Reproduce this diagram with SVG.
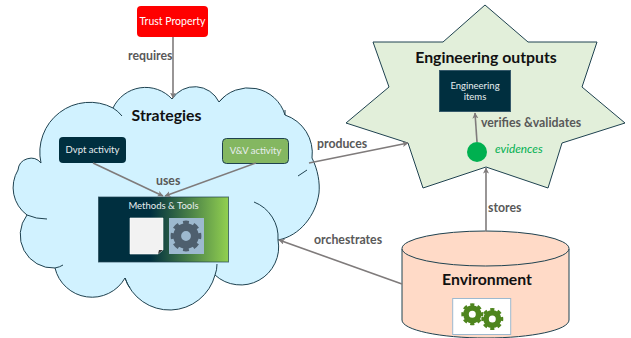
<svg xmlns="http://www.w3.org/2000/svg" width="631" height="338" viewBox="0 0 631 338">
<style>
text{font-family:Lato,"Open Sans","Liberation Sans",sans-serif}
.lab{font-size:12.300px;fill:#595959;font-weight:700}
.title{font-size:15.800px;fill:#111;font-weight:700;text-anchor:middle}
.small{font-size:9.500px;fill:#E8EEF0;text-anchor:middle}
.edge{stroke:#7F7B7B;stroke-width:1.6;fill:none;marker-end:url(#arr)}
.arc{fill:none;stroke:#1F4250;stroke-width:1}
</style>
<defs>
<marker id="arr" markerWidth="7" markerHeight="7" refX="5.500" refY="3" orient="auto" markerUnits="userSpaceOnUse"><path d="M0,0L6,3L0,6L1.500,3Z" fill="#7F7B7B"/></marker>
<linearGradient id="mg" x1="0" x2="1" y1="0" y2="0"><stop offset="0.4" stop-color="#002F3F"/><stop offset="1" stop-color="#92D050"/></linearGradient>
<g id="gear" fill="none" stroke="currentColor">
<circle r="9" stroke-width="8"/>
<circle r="13.200" stroke-width="5" pathLength="80" stroke-dasharray="5.500 4.500" stroke-dashoffset="2.750"/>
</g>
</defs>
<g id="strategies">
<path fill="#D1F2FF" stroke="#1F4250" d="M41,163A50,50 0 0 1 113,108A36,36 0 0 1 172,99A27,27 0 0 1 219,102A38,38 0 0 1 285,115A40,40 0 0 1 312,158C318,170 320,183 319,193C316,215 300,236 278,240A38,38 0 0 1 215,275A47,47 0 0 1 125,278A38,38 0 0 1 55,268A33,33 0 0 1 27,215A34,34 0 0 1 18,170A13,13 0 0 1 41,163Z"/>
<path class="arc" d="M113,108Q118,111 122,116"/>
<path class="arc" d="M219,102L224,97"/>
<path class="arc" d="M285,115V110"/>
<path class="arc" d="M298,176L307,170"/>
<path class="arc" d="M278,240A38,38 0 0 0 254,202"/>
<path class="arc" d="M215,275Q217,270 217,264"/>
<path class="arc" d="M125,278Q127,284 130,288"/>
<path class="arc" d="M55,268Q60,267 63,265"/>
<path class="arc" d="M27,215Q36,219 47,219"/>
<text class="title" x="166.500" y="121">Strategies</text>
</g>
<g id="trust"><rect x="137" y="6" width="71" height="31" rx="4" fill="#FF0000"/><text x="172.500" y="25" font-size="10.500" fill="#fff" text-anchor="middle">Trust Property</text></g>
<g id="dvpt"><rect x="59" y="137" width="67" height="26" rx="4" fill="#002F3F"/><text class="small" x="92.500" y="153">Dvpt activity</text></g>
<g id="vv"><rect x="222.500" y="138.500" width="66" height="25" rx="4" fill="#84B761" stroke="#1F4250"/><text class="small" x="255.500" y="154">V&amp;V activity</text></g>
<g id="methods">
<rect x="98.500" y="197" width="130" height="65" fill="url(#mg)" stroke="#1F4250" stroke-opacity=".7"/>
<text class="small" x="163.500" y="209">Methods &amp; Tools</text>
<path d="M130,218H163V250L158,254H130Z" fill="#F2F2F2" stroke="#fff" stroke-width=".6"/>
<path d="M163,250L158,254L159,250Z" fill="#333"/>
<rect x="169" y="218" width="35" height="36" fill="#9DB9CF"/>
<use href="#gear" transform="translate(186,236) scale(.98)" style="color:#4E5F6E"/>
</g>
<g id="outputs">
<path d="M485,5L528,42H597L582,87L625,123L562,143L548,188L486,167L423,188L408,143L346,123L389,87L373,42H443Z" fill="#E2EFDA" stroke="#1F4250"/>
<text class="title" x="486" y="63">Engineering outputs</text>
<rect x="439.500" y="70.500" width="71" height="41" fill="#002F3F" stroke="#35596a"/>
<text class="small" x="475" y="89">Engineering</text>
<text class="small" x="475" y="100">items</text>
<circle cx="477" cy="152" r="10" fill="#00B050"/>
<text x="495" y="153" font-size="11.800" font-style="italic" fill="#00B050">evidences</text>
</g>
<g id="environment">
<path d="M402,249V320C402,330 440,338 486,338C532,338 569,330 569,320V249Z" fill="#FFDAC7" stroke="#1F4250"/>
<ellipse cx="485.500" cy="248.500" rx="83.500" ry="17.500" fill="#FFDAC7" stroke="#1F4250"/>
<text class="title" x="487" y="285">Environment</text>
<rect x="452.700" y="298.500" width="58" height="36" fill="#fff" stroke="#9DB9CF"/>
<use href="#gear" transform="translate(472.300,314.300) scale(.7)" style="color:#4E851E"/>
<use href="#gear" transform="translate(492.300,319) scale(.7)" style="color:#4E851E"/>
</g>
<g id="connectors">
<path class="edge" d="M173,37V98"/>
<path class="edge" d="M93,163L163,196"/>
<path class="edge" d="M256,163L165,196"/>
<path class="edge" d="M309,163L408,143"/>
<path class="edge" d="M402,284L279,240"/>
<path class="edge" d="M486,231V168"/>
<path class="edge" d="M477,142L475,113"/>
</g>
<g id="labels">
<text class="lab" x="128" y="60">requires</text>
<text class="lab" x="156" y="185">uses</text>
<text class="lab" x="317" y="148">produces</text>
<text class="lab" x="314" y="244">orchestrates</text>
<text class="lab" x="488" y="212">stores</text>
<text class="lab" x="481" y="127">verifies &amp;validates</text>
</g>
</svg>
